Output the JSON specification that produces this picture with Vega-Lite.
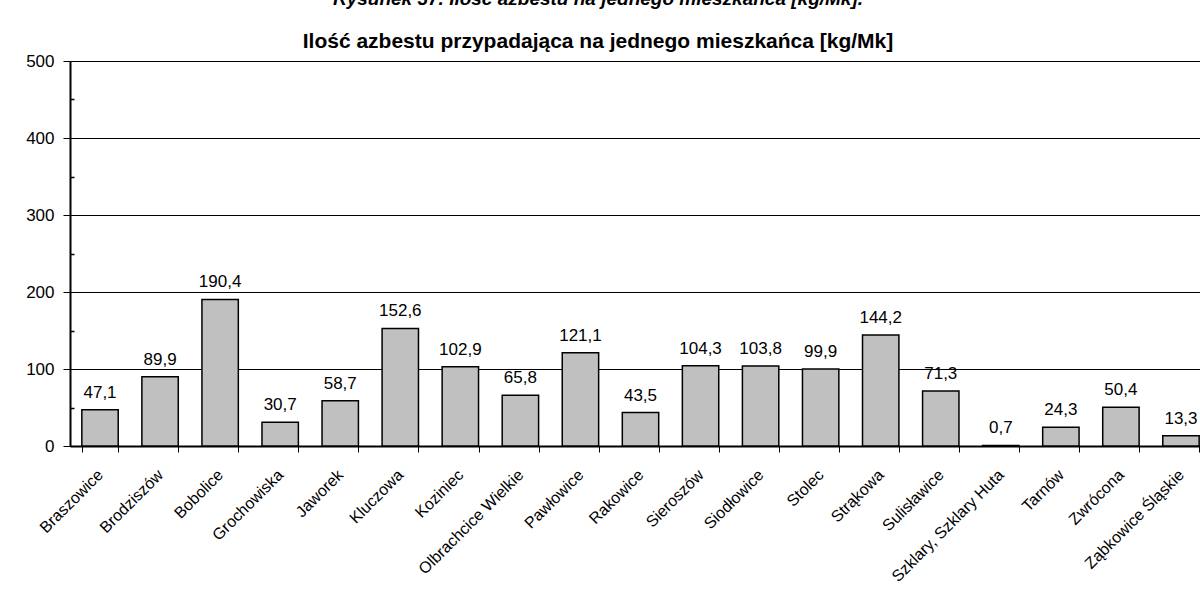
{
  "$schema": "https://vega.github.io/schema/vega-lite/v6.json",
  "autosize": {"type": "none"},
  "width": 1130,
  "height": 385,
  "padding": {"left": 70, "top": 61, "right": 0, "bottom": 150},
  "background": "white",
  "config": {
    "locale": {"number": {"decimal": ",", "thousands": " ", "grouping": [3], "currency": ["", " zł"]}},
    "view": {"stroke": null},
    "font": "Liberation Sans"
  },
  "title": {
    "text": "Rysunek 37. Ilość azbestu na jednego mieszkańca [kg/Mk].",
    "subtitle": "Ilość azbestu przypadająca na jednego mieszkańca [kg/Mk]",
    "anchor": "middle",
    "frame": "group",
    "dx": -37,
    "offset": 0,
    "font": "Liberation Sans",
    "fontSize": 19,
    "fontStyle": "italic",
    "fontWeight": "bold",
    "color": "black",
    "subtitleFont": "Liberation Sans",
    "subtitleFontSize": 21,
    "subtitleFontWeight": "bold",
    "subtitleColor": "black",
    "subtitlePadding": 22
  },
  "data": {
    "values": [
      {"miejscowosc": "Braszowice", "wartosc": 47.1},
      {"miejscowosc": "Brodziszów", "wartosc": 89.9},
      {"miejscowosc": "Bobolice", "wartosc": 190.4},
      {"miejscowosc": "Grochowiska", "wartosc": 30.7},
      {"miejscowosc": "Jaworek", "wartosc": 58.7},
      {"miejscowosc": "Kluczowa", "wartosc": 152.6},
      {"miejscowosc": "Koziniec", "wartosc": 102.9},
      {"miejscowosc": "Olbrachcice Wielkie", "wartosc": 65.8},
      {"miejscowosc": "Pawłowice", "wartosc": 121.1},
      {"miejscowosc": "Rakowice", "wartosc": 43.5},
      {"miejscowosc": "Sieroszów", "wartosc": 104.3},
      {"miejscowosc": "Siodłowice", "wartosc": 103.8},
      {"miejscowosc": "Stolec", "wartosc": 99.9},
      {"miejscowosc": "Strąkowa", "wartosc": 144.2},
      {"miejscowosc": "Sulisławice", "wartosc": 71.3},
      {"miejscowosc": "Szklary, Szklary Huta", "wartosc": 0.7},
      {"miejscowosc": "Tarnów", "wartosc": 24.3},
      {"miejscowosc": "Zwrócona", "wartosc": 50.4},
      {"miejscowosc": "Ząbkowice Śląskie", "wartosc": 13.3}
    ]
  },
  "encoding": {
    "x": {
      "field": "miejscowosc",
      "type": "nominal",
      "sort": null,
      "scale": {"range": [0, 1141], "paddingInner": 0.394, "paddingOuter": 0.197},
      "axis": {
        "title": null,
        "labelAngle": -45,
        "labelAlign": "right",
        "labelBaseline": "middle",
        "labelFontSize": 16,
        "labelColor": "black",
        "labelPadding": 20,
        "tickBand": "extent",
        "tickSize": 6,
        "tickColor": "black",
        "domainColor": "black",
        "domainWidth": 2,
        "labelOverlap": false,
        "labelBound": false
      }
    }
  },
  "resolve": {"axis": {"y": "independent"}},
  "layer": [
    {
      "mark": {"type": "bar", "fill": "#c0c0c0", "stroke": "black", "strokeWidth": 1.5},
      "encoding": {
        "y": {
          "field": "wartosc",
          "type": "quantitative",
          "scale": {"domain": [0, 500], "nice": false},
          "axis": {
            "title": null,
            "orient": "left",
            "values": [0, 100, 200, 300, 400, 500],
            "grid": true,
            "gridColor": "black",
            "gridWidth": 1,
            "gridOpacity": 1,
            "tickSize": 7,
            "tickColor": "black",
            "domainColor": "black",
            "domainWidth": 2,
            "labelFontSize": 17,
            "labelColor": "black",
            "labelPadding": 9
          }
        }
      }
    },
    {
      "mark": {"type": "text", "fontSize": 17, "baseline": "alphabetic", "dy": -12, "color": "black"},
      "encoding": {
        "y": {"field": "wartosc", "type": "quantitative", "axis": {
            "orient": "left",
            "title": null,
            "values": [50, 150, 250, 350, 450],
            "labels": false,
            "domain": false,
            "grid": false,
            "tickSize": -4,
            "tickColor": "black",
            "tickWidth": 1.5
          }},
        "text": {"field": "wartosc", "type": "quantitative", "format": ".1f"}
      }
    }
  ]
}
